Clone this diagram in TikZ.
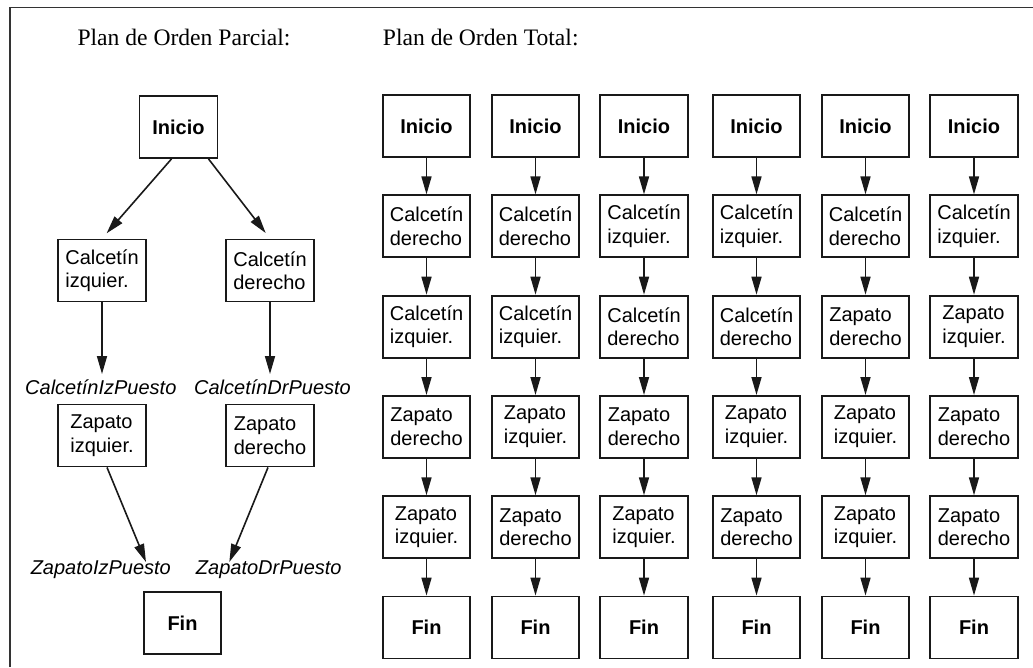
\documentclass[tikz,border=0pt]{standalone}
\usepackage{fontspec}
\setmainfont{Liberation Serif}
\setsansfont{Liberation Sans}
\usetikzlibrary{positioning, arrows.meta, calc}

\newcommand{\cizq}{Calcetín\\izquier.}
\newcommand{\cder}{Calcetín\\derecho}
\newcommand{\zizq}{Zapato\\izquier.}
\newcommand{\zder}{Zapato\\derecho}

\begin{document}
\begin{tikzpicture}[
  x=1pt, y=-1pt,
  >={Triangle[length=18pt, width=10pt]},
  every node/.style={font=\sffamily\fontsize{20}{23.5}\selectfont},
  box/.style    = {draw=black!90, line width=1.8pt, align=left, inner sep=2pt, minimum height=62pt, minimum width=87.5pt},
  endbox/.style = {box, font=\sffamily\bfseries\fontsize{20}{23.5}\selectfont},
  cond/.style   = {font=\sffamily\itshape\fontsize{20}{23.5}\selectfont, inner sep=0pt},
  title/.style  = {font=\rmfamily\fontsize{23.6}{28}\selectfont, anchor=base west, inner sep=0pt},
  arr/.style    = {->, line width=1.6pt, black!90},
  frame/.style  = {line width=1.5pt, black!80},
]
  \useasboundingbox (0,0) rectangle (1033,667);
  \draw[frame] (10,667) -- (10,7.5) -- (1033,7.5);

  % Titles.
  \node[title] (tparc) at (77.3,45.7)  {Plan de Orden Parcial:};
  \node[title] (ttot)  at (382.7,45.7) {Plan de Orden Total:};

  % Partial order plan: two independent branches.
  \node[endbox, minimum width=78pt] (pini) at (178.5,127) {Inicio};
  \node[box]  (pci) at (102,270.5)   {\cizq};
  \node[box]  (pcd) at (270,270.5)   {\cder};
  \node[cond] (lci) at (100.8,387.7) {CalcetínIzPuesto};
  \node[cond] (lcd) at (272.5,387.7) {CalcetínDrPuesto};
  \node[box]  (pzi) at (102,435.5)   {\zizq};
  \node[box]  (pzd) at (270,435.5)   {\zder};
  \node[cond] (lzi) at (100.8,569.3) {ZapatoIzPuesto};
  \node[cond] (lzd) at (268.8,569.3) {ZapatoDrPuesto};
  \node[endbox, minimum width=77pt] (pfin) at (182.5,623.3) {Fin};
  \coordinate (ezi) at (146,562);
  \coordinate (ezd) at (229.3,562);

  \draw[arr, shorten >=7pt] ($(pini.south)+(-7,0)$) -- (pci.north);
  \draw[arr, shorten >=7pt] ($(pini.south)+(30,0)$) -- (pcd.north);
  \draw[arr, shorten >=6pt] (pci) -- (pci.south |- lci.north);
  \draw[arr, shorten >=6pt] (pcd) -- (pcd.south |- lcd.north);
  \draw[arr] ($(pzi.south)+(5,0)$)  -- (ezi);
  \draw[arr] ($(pzd.south)+(-2,0)$) -- (ezd);

  % Total order plans: one column per linearisation.
  \foreach \x/\ra/\rb/\rc/\rd [count=\k] in {
      426.5/\cder/\cizq/\zder/\zizq,
      535.5/\cder/\cizq/\zizq/\zder,
      644/\cizq/\cder/\zder/\zizq,
      756.5/\cizq/\cder/\zizq/\zder,
      865.5/\cder/\zder/\zizq/\zizq,
      974/\cizq/\zizq/\zder/\zder}
  {
    \node[endbox] (ini\k) at (\x,126) {Inicio};
    \node[box,    below=36.5pt of ini\k] (a\k)   {\ra};
    \node[box,    below=36.5pt of a\k]   (b\k)   {\rb};
    \node[box,    below=36.5pt of b\k]   (c\k)   {\rc};
    \node[box,    below=36.5pt of c\k]   (d\k)   {\rd};
    \node[endbox, below=36.5pt of d\k]   (fin\k) {Fin};
    \foreach \u/\v in {ini/a, a/b, b/c, c/d, d/fin}
      \draw[arr] (\u\k) -- (\v\k);
  }
\end{tikzpicture}
\end{document}
